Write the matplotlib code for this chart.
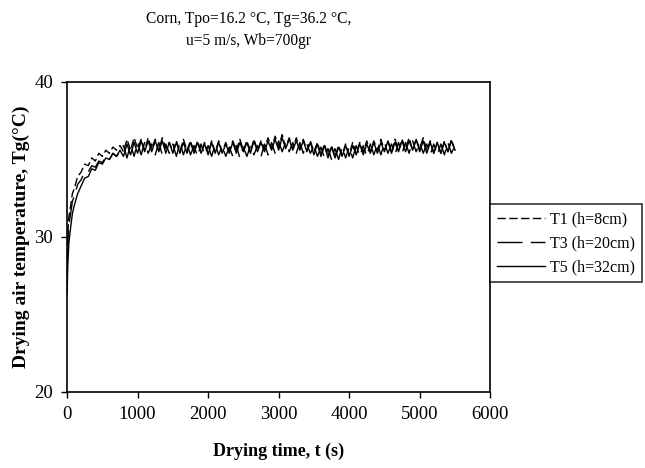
import matplotlib
matplotlib.use('Agg')
import matplotlib.pyplot as plt

plt.rcParams['font.family'] = ['Liberation Serif', 'DejaVu Serif']
plt.rcParams['lines.scale_dashes'] = False

# drying time (s)
t = [0, 10, 25, 50, 75, 100, 150, 200, 250] + list(range(300, 5501, 50))

# air temperature readings (deg C)
T1 = [28.0, 30.2, 31.3, 32.0, 32.8, 33.1, 33.9, 34.2, 34.7,
      34.6, 35.1, 34.9, 35.4, 35.2, 35.6, 35.4, 35.8, 35.6, 35.9,
      35.5, 36.3, 35.6, 36.4, 35.7, 36.3, 35.6, 36.4, 35.7, 36.3,
      35.6, 36.4, 35.7, 36.1, 35.5, 36.2, 35.5, 36.3, 35.6, 36.2,
      35.5, 36.2, 35.5, 36.1, 35.4, 36.2, 35.5, 36.2, 35.5, 36.1,
      35.5, 36.2, 35.6, 36.3, 35.6, 36.2, 35.5, 36.3, 35.6, 36.2,
      35.7, 36.4, 35.7, 36.5, 35.8, 36.6, 35.8, 36.4, 35.7, 36.4,
      35.7, 36.3, 35.6, 36.2, 35.5, 36.1, 35.3, 36.0, 35.2, 35.9,
      35.2, 35.9, 35.3, 36.0, 35.3, 36.1, 35.4, 36.1, 35.5, 36.2,
      35.5, 36.2, 35.6, 36.3, 35.6, 36.2, 35.5, 36.3, 35.6, 36.3,
      35.7, 36.4, 35.6, 36.3, 35.7, 36.4, 35.6, 36.2, 35.4, 36.1,
      35.4, 36.2, 35.5, 36.3, 35.6]
T3 = [27.3, 29.6, 30.8, 31.5, 32.3, 32.6, 33.4, 33.7, 34.2,
      34.2, 34.6, 34.5, 34.9, 34.8, 35.2, 35.0, 35.4, 35.2, 35.5,
      35.9, 35.1, 36.0, 35.2, 36.1, 35.3, 36.1, 35.4, 36.0, 35.3,
      36.1, 35.3, 36.0, 35.4, 36.0, 35.2, 36.1, 35.3, 36.0, 35.3,
      35.9, 35.2, 36.0, 35.3, 35.9, 35.2, 36.0, 35.3, 35.9, 35.2,
      35.8, 35.2, 35.9, 35.1, 35.8, 35.2, 35.9, 35.3, 35.9, 35.2,
      36.0, 35.3, 36.1, 35.4, 36.2, 35.5, 36.1, 35.5, 36.1, 35.4,
      36.1, 35.4, 36.0, 35.4, 35.9, 35.2, 35.8, 35.1, 35.7, 35.0,
      35.7, 35.0, 35.8, 35.1, 35.8, 35.1, 35.9, 35.2, 35.9, 35.2,
      36.0, 35.3, 36.0, 35.3, 36.1, 35.4, 36.0, 35.3, 36.1, 35.4,
      36.1, 35.4, 36.2, 35.5, 36.1, 35.4, 36.0, 35.3, 36.0, 35.3,
      36.0, 35.3, 36.1, 35.4, 35.9]
T5 = [26.3, 28.2, 29.6, 30.6, 31.5, 32.0, 32.8, 33.3, 33.8,
      33.9, 34.4, 34.3, 34.8, 34.7, 35.1, 35.0, 35.4, 35.2, 35.6,
      35.2, 36.0, 35.3, 36.1, 35.4, 36.2, 35.5, 36.2, 35.5, 36.2,
      35.5, 36.2, 35.4, 36.1, 35.4, 36.1, 35.4, 36.1, 35.4, 36.1,
      35.4, 36.1, 35.4, 36.0, 35.3, 36.1, 35.4, 36.1, 35.4, 36.0,
      35.4, 36.1, 35.4, 36.1, 35.5, 36.1, 35.4, 36.2, 35.5, 36.1,
      35.5, 36.2, 35.6, 36.3, 35.6, 36.4, 35.7, 36.3, 35.6, 36.2,
      35.6, 36.2, 35.5, 36.1, 35.3, 36.0, 35.2, 35.9, 35.1, 35.8,
      35.1, 35.8, 35.2, 35.9, 35.2, 35.9, 35.3, 36.0, 35.3, 36.0,
      35.4, 36.1, 35.4, 36.1, 35.5, 36.2, 35.4, 36.1, 35.5, 36.2,
      35.5, 36.2, 35.6, 36.3, 35.5, 36.2, 35.4, 36.1, 35.4, 36.1,
      35.4, 36.1, 35.5, 36.2, 35.6]

labels = ['T1 (h=8cm)', 'T3 (h=20cm)', 'T5 (h=32cm)']
styles = [(0, (6, 2.5)), (0, (18, 6, 11, 6)), '-']

fig = plt.figure(figsize=(6.45, 4.68), dpi=100)
ax = fig.add_axes([0.104, 0.1624, 0.656, 0.6624])

for y, lab, ls in zip([T1, T3, T5], labels, styles):
    ax.plot(t, y, color='black', lw=1.0, ls=ls, label=lab)

ax.set_xlim(0, 6000)
ax.set_ylim(20, 40)
ax.set_xticks(range(0, 6001, 1000))
ax.set_yticks([20, 30, 40])
ax.tick_params(direction='out', length=4, width=1, labelsize=13.5, pad=6)
for s in ax.spines.values():
    s.set_linewidth(1.2)

ax.set_xlabel('Drying time, t (s)', fontsize=13, fontweight='bold', labelpad=14)
ax.set_ylabel('Drying air temperature, Tg(\u00b0C)', fontsize=14,
              fontweight='bold', labelpad=3)

fig.text(0.385, 0.936, 'Corn, Tpo=16.2 \u00b0C, Tg=36.2 \u00b0C,\nu=5 m/s, Wb=700gr',
         ha='center', va='center', fontsize=11.2, linespacing=1.45)

leg = ax.legend(loc='upper left', bbox_to_anchor=(1.0, 0.606), borderaxespad=0,
                fontsize=11.5, frameon=True, fancybox=False, handlelength=3.0,
                handletextpad=0.3, labelspacing=0.5, borderpad=0.45)
leg.get_frame().set_edgecolor('black')
leg.get_frame().set_linewidth(1.2)

fig.savefig('out.png', dpi=100)
